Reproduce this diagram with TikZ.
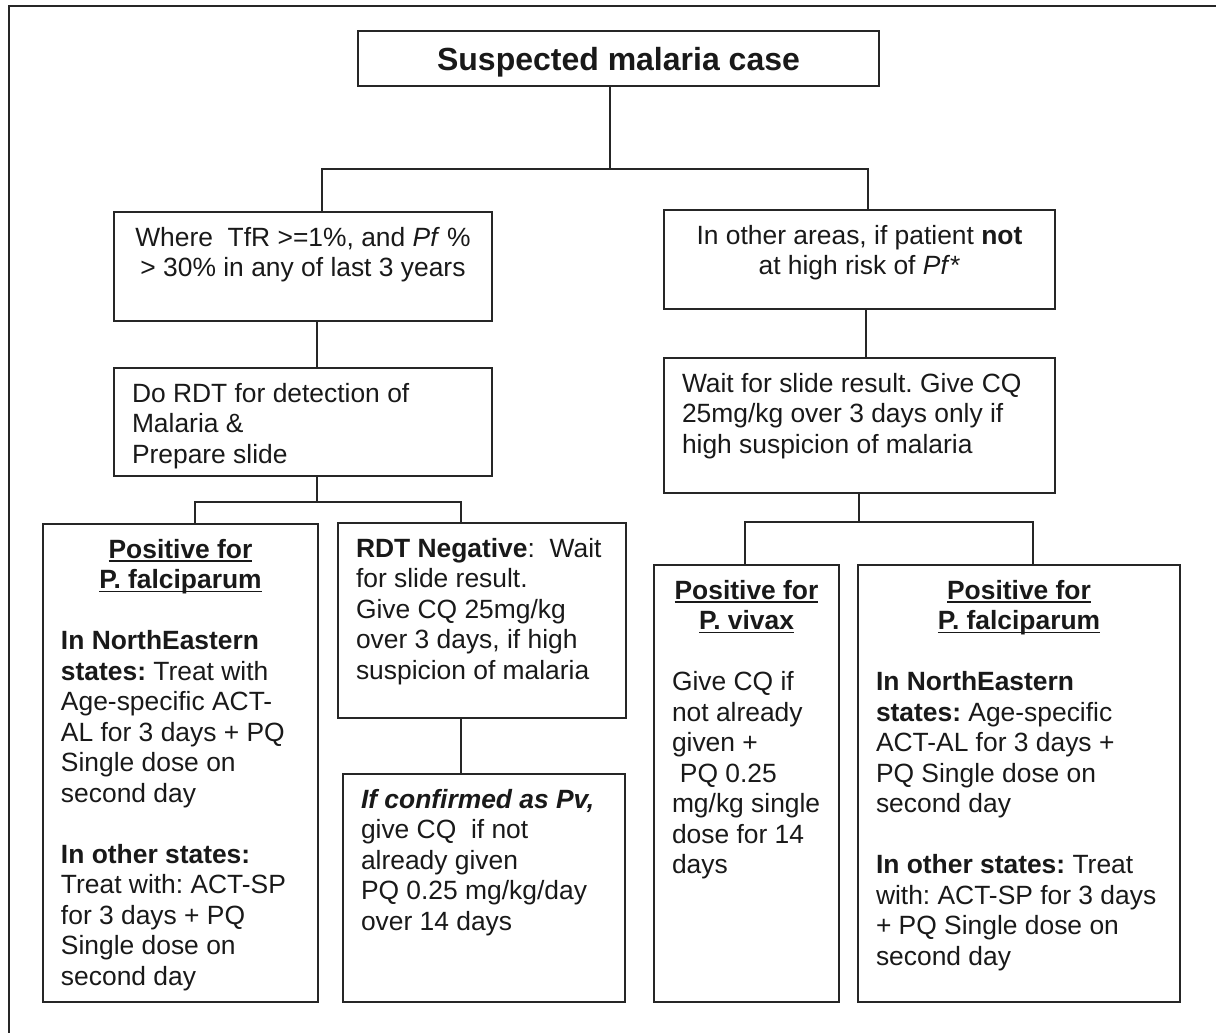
\documentclass[tikz,border=0pt]{standalone}
\usepackage{fontspec}
\setmainfont{Liberation Sans}
\frenchspacing

\newcommand{\undl}[1]{\leavevmode\setbox0=\hbox{#1}\rlap{\rule[-1.7pt]{\wd0}{0.7pt}}\box0}
\newcommand{\celltext}[3]{\parbox[t][#2][t]{#1}{\strut #3}}

\tikzstyle{box} = [draw=black!85, line width=1pt, anchor=north west, inner xsep=9pt, inner ysep=6.55pt, outer sep=0pt, text=black!90, font=\fontsize{13.2}{15.25}\selectfont]
\tikzstyle{conn} = [draw=black!85, line width=0.8pt]

\begin{document}
\begin{tikzpicture}[x=0.5pt,y=-0.5pt]

\useasboundingbox (0,0) rectangle (1216,1033);

% Frame
\draw [line width=1pt, black!85] (9,1045) -- (9,6) -- (1230,6);

% Title
\node [draw=black!85, line width=1pt, minimum width=260.5pt, minimum height=27.5pt, inner sep=0pt, outer sep=0pt, text height=11.5pt, text depth=0pt, text=black!90, font=\fontsize{16}{19}\selectfont\bfseries] (title) at (618.5,58.5) {Suspected malaria case};

% Left branch
\node [box] (where) at (114,212) {\celltext{171pt}{41.4pt}{\centering Where\ \ TfR >=1\%, and \textit{Pf} \%\\ > 30\% in any of last 3 years}};
\node [box] (rdt) at (114,368) {\celltext{171pt}{40.9pt}{\raggedright Do RDT for detection of\\ Malaria \&\\ Prepare slide}};

% Right branch
\node [box] (other) at (664,210) {\celltext{177.5pt}{36.4pt}{\centering In other areas, if patient \textbf{not}\\ at high risk of \textit{Pf}*}};
\node [box] (wait) at (664,358) {\celltext{177.5pt}{54.4pt}{\raggedright Wait for slide result. Give CQ\\ 25mg/kg over 3 days only if\\ high suspicion of malaria}};

% Results below RDT
\node [box] (pfal) at (43,524) {\celltext{119.5pt}{225.9pt}{\centering \undl{\textbf{Positive for}}\\ \undl{\textbf{P. falciparum}}\par\vspace{15.25pt}\raggedright
\textbf{In NorthEastern}\\ \textbf{states:} Treat with\\ Age-specific ACT-\\ AL for 3 days + PQ\\ Single dose on\\ second day\par\vspace{15.25pt}
\textbf{In other states:}\\ Treat with: ACT-SP\\ for 3 days + PQ\\ Single dose on\\ second day}};
\node [box] (neg) at (338,523) {\celltext{126pt}{84.4pt}{\raggedright \textbf{RDT Negative}:\ \ Wait\\ for slide result.\\ Give CQ 25mg/kg\\ over 3 days, if high\\ suspicion of malaria}};
\node [box] (conf) at (343,774) {\celltext{123pt}{100.9pt}{\raggedright \textbf{\textit{If confirmed as Pv,}}\\ give CQ\ \ if not\\ already given\\ PQ 0.25 mg/kg/day\\ over 14 days}};

% Results below slide
\node [box] (pviv) at (654,565) {\celltext{74.5pt}{205.4pt}{\centering \undl{\textbf{Positive for}}\\ \undl{\textbf{P. vivax}}\par\vspace{15.25pt}\raggedright
Give CQ if\\ not already\\ given +\\ \hspace*{0.3em}PQ 0.25\\ mg/kg single\\ dose for 14\\ days}};
\node [box] (pfal2) at (858,565) {\celltext{143pt}{205.4pt}{\centering \undl{\textbf{Positive for}}\\ \undl{\textbf{P. falciparum}}\par\vspace{15.25pt}\raggedright
\textbf{In NorthEastern}\\ \textbf{states:} Age-specific\\ ACT-AL for 3 days +\\ PQ Single dose on\\ second day\par\vspace{15.25pt}
\textbf{In other states:} Treat\\ with: ACT-SP for 3 days\\ + PQ Single dose on\\ second day}};

% Connectors
\coordinate (top) at (610,169);
\draw [conn] (title.south -| top) -- (top);
\draw [conn] ([xshift=9.5pt]where.north) |- (top) -| ([xshift=4.25pt]other.north);

\draw [conn] ([xshift=7pt]where.south) -- ([xshift=7pt]rdt.north);
\coordinate (left) at (317,502);
\draw [conn] (rdt.south -| left) -- (left);
\draw [conn] ([xshift=7.25pt]pfal.north) |- (left) -| ([xshift=-10.5pt]neg.north);
\draw [conn] ([xshift=-10.5pt]neg.south) -- ([xshift=-10.5pt]neg.south |- conf.north);

\draw [conn] ([xshift=3.25pt]other.south) -- ([xshift=3.25pt]wait.north);
\coordinate (right) at (859,522);
\draw [conn] (wait.south -| right) -- (right);
\draw [conn] ([xshift=-0.75pt]pviv.north) |- (right) -| ([xshift=7pt]pfal2.north);

\end{tikzpicture}
\end{document}
